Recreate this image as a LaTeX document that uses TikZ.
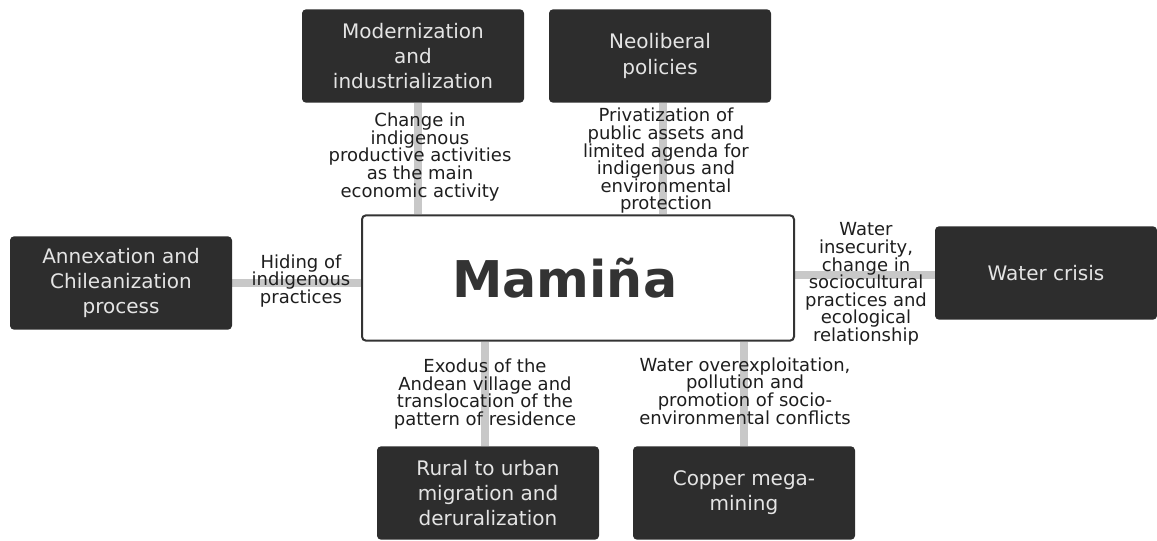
\documentclass[tikz,border=0pt]{standalone}
\usepackage{fontspec}
\setmainfont{DejaVu Sans}
\usetikzlibrary{backgrounds}
\definecolor{boxgray}{HTML}{2D2D2D}
\definecolor{boxtext}{HTML}{E4E4E4}
\definecolor{linkgray}{HTML}{C8C8C8}
\definecolor{labeltext}{HTML}{1E1E1E}
\definecolor{hubtext}{HTML}{333333}
\begin{document}
\begin{tikzpicture}[x=0.75pt,y=-0.75pt,
   cause/.style={fill=boxgray, rounded corners=3pt, text=boxtext, minimum width=166.5pt,
      minimum height=70pt, align=center, inner sep=0pt, font=\fontsize{15}{18.8}\selectfont},
   link/.style={draw=linkgray, line width=6pt},
   effect/.style={align=center, inner sep=0pt, text=labeltext,
      font=\fontsize{13.5}{13.2}\selectfont}]
   \useasboundingbox (0,0) rectangle (1157,540);

   % central node and the causes round it
   \node[draw=hubtext, line width=1.5pt, rounded corners=3pt, fill=white, minimum width=324pt,
      minimum height=94pt, text=hubtext, font=\bfseries\fontsize{38}{40}\selectfont] (mam) at (578,278) {Mamiña\hspace*{20pt}};
   \node[cause] (mod) at (413,56) {Modernization\\and\\industrialization};
   \node[cause] (neo) at (660,56) {Neoliberal\\policies};
   \node[cause] (ann) at (121,283) {Annexation and\\Chileanization\\process};
   \node[cause] (wat) at (1046,273) {Water crisis};
   \node[cause] (rur) at (488,493) {Rural to urban\\migration and\\deruralization};
   \node[cause] (cop) at (744,493) {Copper mega-\\mining};

   % connectors
   \begin{scope}[on background layer]
   \draw[link] ([xshift=4pt]mod.south) -- ([xshift=4pt]mod.south |- mam.north);
   \draw[link] ([xshift=2pt]neo.south) -- ([xshift=2pt]neo.south |- mam.north);
   \draw[link] (ann.east) -- (ann.east -| mam.west);
   \draw[link] ([yshift=-1.5pt]wat.west) -- ([yshift=-1.5pt]wat.west -| mam.east);
   \draw[link] ([xshift=-2pt]rur.north) -- ([xshift=-2pt]rur.north |- mam.south);
   \draw[link] (cop.north) -- (cop.north |- mam.south);
   \end{scope}

   % labels on the connectors
   \node[effect] (lmod) at (420,157) {Change in\\indigenous\\productive activities\\as the main\\economic activity};
   \node[effect] (lneo) at (666,161) {Privatization of\\public assets and\\limited agenda for\\indigenous and\\environmental\\protection};
   \node[effect] (lann) at (301,281) {Hiding of\\indigenous\\practices};
   \node[effect] (lwat) at (866,284) {Water\\insecurity,\\change in\\sociocultural\\practices and\\ecological\\relationship};
   \node[effect] (lrur) at (485,394) {Exodus of the\\Andean village and\\translocation of the\\pattern of residence};
   \node[effect] (lcop) at (745,391) {Water overexploitation,\\pollution and\\promotion of socio-\\environmental conflicts};
\end{tikzpicture}
\end{document}
